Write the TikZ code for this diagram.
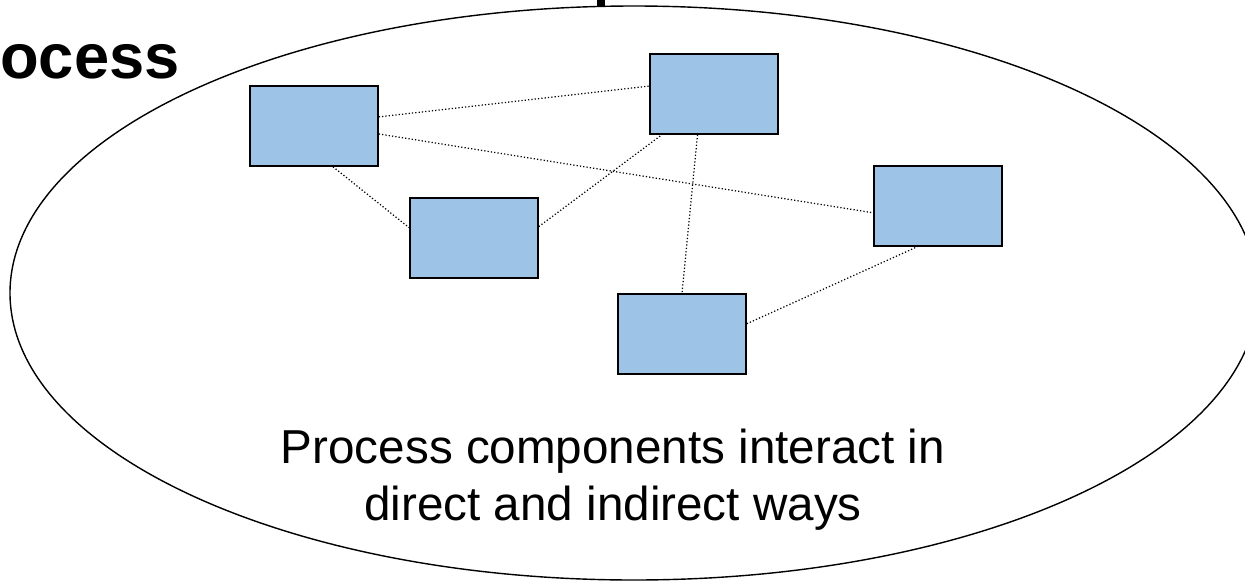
\documentclass[tikz,border=0pt]{standalone}
\usepackage{fontspec}
\setmainfont{Liberation Sans}
\definecolor{boxblue}{HTML}{9DC3E6}

\begin{document}
\begin{tikzpicture}[x=0.02cm,y=-0.02cm]
  \tikzset{comp/.style={draw=black,fill=boxblue,line width=0.9pt,minimum width=2.56cm,minimum height=1.6cm,inner sep=0pt},
    link/.style={line width=0.7pt,line cap=butt,dash pattern=on 0.7pt off 1.2pt}}
  \clip (0,0) rectangle (1245,582);
  % cut-off title
  \node[anchor=base west,inner sep=0pt,font=\fontsize{36}{40}\bfseries] (title) at (0,78) {ocess};
  \fill (597,0) rectangle (605,6);
  % system boundary
  \draw[line width=0.8pt] (634,293) ellipse [x radius=624,y radius=287];
  % components
  \foreach \n/\x/\y in {p1/314/126,p2/474/238,p3/714/94,p4/938/206,p5/682/334}{
    \node[comp] (\n) at (\x,\y) {};
  }
  % interactions
  \foreach \a/\b in {p1.8/p3.173,p1.-7/p4.186,p1.-65/p2.171,p2.10/p3.218,p3.248/p5.north,p5.9/p4.243}{
    \draw[link] (\a) -- (\b);
  }
  \node[anchor=base,align=center,inner sep=0pt,font=\fontsize{27.1}{32.4}\selectfont] (note) at (613,520)
    {Process components interact in\\direct and indirect ways};
\end{tikzpicture}
\end{document}
